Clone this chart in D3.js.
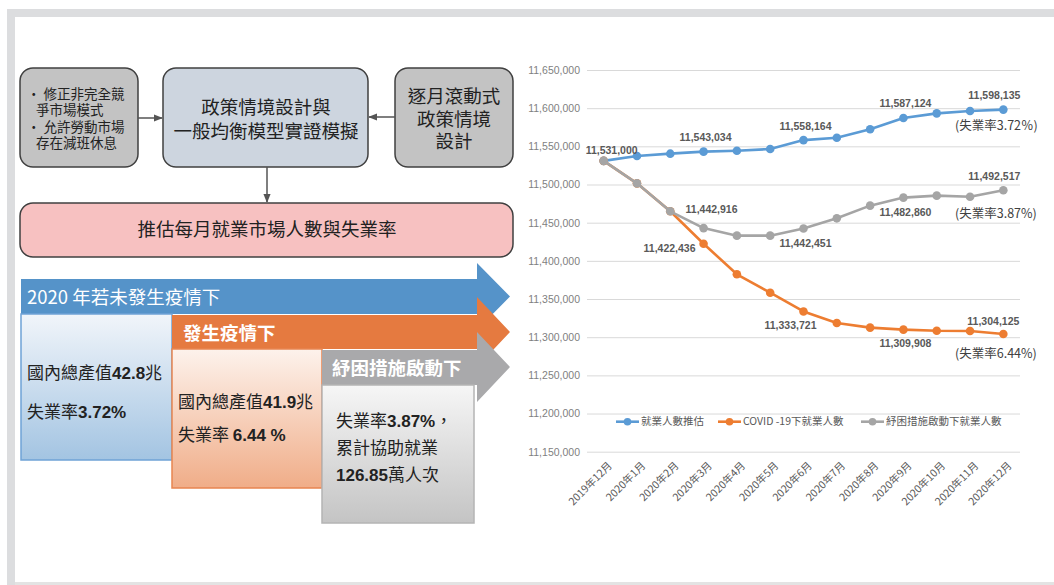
<!DOCTYPE html>
<html>
<head>
<meta charset="utf-8">
<script src="https://cdn.jsdelivr.net/npm/d3@7"></script>
<style>
  body { margin: 0; background: #fff; }
  svg text { font-family: "Noto Sans CJK TC", "Noto Sans CJK SC", sans-serif; }
  .num { font-family: "Liberation Sans", Arial, sans-serif; }
</style>
</head>
<body>
<svg id="chart" width="1054" height="585"></svg>
<script>
// --- data ---
var months = ["2019年12月", "2020年1月", "2020年2月", "2020年3月", "2020年4月", "2020年5月",
  "2020年6月", "2020年7月", "2020年8月", "2020年9月", "2020年10月", "2020年11月", "2020年12月"];

var baseline = [11531000, 11537300, 11540400, 11543034, 11544300, 11546500, 11558164,
  11561300, 11572300, 11587124, 11593200, 11596300, 11598135];
var covid = [11531000, 11501500, 11464900, 11422436, 11382400, 11358300, 11333721,
  11318600, 11312500, 11309908, 11308500, 11308100, 11304125];
var relief = [11531000, 11501500, 11464900, 11442916, 11433000, 11433000, 11442451,
  11455700, 11472300, 11482860, 11485400, 11484000, 11492517];

var seriesNames = ["就業人數推估", "COVID -19下就業人數", "紓困措施啟動下就業人數"];
var rateNotes = ["(失業率3.72％)", "(失業率6.44%)", "(失業率3.87%)"];
var labeledMonths = [[0, 3, 6, 9, 12], [3, 6, 9, 12], [3, 6, 9, 12]];
var yTicks = [11150000, 11200000, 11250000, 11300000, 11350000, 11400000,
  11450000, 11500000, 11550000, 11600000, 11650000];

// scenario panel texts
var leftNotes = ["・ 修正非完全競", "   爭市場模式", "・ 允許勞動市場", "   存在減班休息"];
var modelText = ["政策情境設計與", "一般均衡模型實證模擬"];
var rollText = ["逐月滾動式", "政策情境", "設計"];
var resultText = "推估每月就業市場人數與失業率";
var scenarios = ["2020 年若未發生疫情下", "發生疫情下", "紓困措施啟動下"];

// --- styling / placement ---
var colors = ["#5b9bd5", "#ed7d31", "#a5a5a5"];
// label offsets (dx, dy) per series for labelled points
var labelOffsets = [
  [[8, -11], [2, -14], [2, -14], [2, -15], [-9, -14]],
  [[-34, 5], [-13, 14], [2, 14], [-10, -13]],
  [[8, -19], [2, 15], [2, 15], [-9, -14]]
];
var noteY = [126, 354, 214];

var svg = d3.select("#chart");

// frame
svg.append("rect").attr("x", 7).attr("y", 9).attr("width", 1047).attr("height", 8).attr("fill", "#dcdddf");
svg.append("rect").attr("x", 7).attr("y", 9).attr("width", 8).attr("height", 576).attr("fill", "#dcdddf");
svg.append("rect").attr("x", 15).attr("y", 582).attr("width", 1039).attr("height", 3).attr("fill", "#e3e3e3");

// ---------- left diagram ----------
var diag = svg.append("g");

var defs = svg.append("defs");
defs.append("marker").attr("id", "arr").attr("viewBox", "0 0 10 10")
  .attr("refX", 9).attr("refY", 5).attr("markerWidth", 6).attr("markerHeight", 6)
  .attr("orient", "auto").append("path").attr("d", "M0,1 L10,5 L0,9 Z").attr("fill", "#555");

function grad(id, c0, c1) {
  var g = defs.append("linearGradient").attr("id", id).attr("x1", 0).attr("y1", 0).attr("x2", 0).attr("y2", 1);
  g.append("stop").attr("offset", "0%").attr("stop-color", c0);
  g.append("stop").attr("offset", "100%").attr("stop-color", c1);
}
grad("gBlue", "#f1f5fa", "#a3c4e2");
grad("gOrange", "#fdf2ec", "#f0ad88");
grad("gGray", "#f6f6f6", "#c4c4c4");

function box(x, y, w, h, fill) {
  diag.append("rect").attr("x", x).attr("y", y).attr("width", w).attr("height", h)
    .attr("rx", 13).attr("fill", fill).attr("stroke", "#404040").attr("stroke-width", 1.5);
}
box(20, 68, 118, 99, "#c3c3c3");
box(163, 68, 205, 99, "#cdd5df");
box(395, 68, 118, 99, "#c3c3c3");
box(20, 203, 493, 54, "#f7c1c1");

diag.append("line").attr("x1", 138).attr("y1", 118).attr("x2", 162).attr("y2", 118)
  .attr("stroke", "#555").attr("stroke-width", 1.5).attr("marker-end", "url(#arr)");
diag.append("line").attr("x1", 395).attr("y1", 117).attr("x2", 369).attr("y2", 117)
  .attr("stroke", "#555").attr("stroke-width", 1.5).attr("marker-end", "url(#arr)");
diag.append("line").attr("x1", 267).attr("y1", 167).attr("x2", 267).attr("y2", 202)
  .attr("stroke", "#555").attr("stroke-width", 1.5).attr("marker-end", "url(#arr)");

diag.selectAll(".ln").data(leftNotes).enter().append("text")
  .attr("x", 27).attr("y", function(d, i) { return 94 + i * 16.5; })
  .attr("dy", "0.35em").attr("font-size", 13.5).attr("fill", "#222")
  .attr("xml:space", "preserve").text(function(d) { return d; });

diag.selectAll(".mt").data(modelText).enter().append("text")
  .attr("x", 266).attr("y", function(d, i) { return 108 + i * 24; })
  .attr("dy", "0.35em").attr("text-anchor", "middle").attr("font-size", 18.5).attr("fill", "#222")
  .text(function(d) { return d; });

diag.selectAll(".rt").data(rollText).enter().append("text")
  .attr("x", 454).attr("y", function(d, i) { return 97 + i * 22.5; })
  .attr("dy", "0.35em").attr("text-anchor", "middle").attr("font-size", 18.5).attr("fill", "#222")
  .text(function(d) { return d; });

diag.append("text").attr("x", 267).attr("y", 230).attr("dy", "0.35em")
  .attr("text-anchor", "middle").attr("font-size", 18.5).attr("fill", "#222").text(resultText);

// scenario arrows + boxes
function arrow(x0, top, bot, headTop, headBot, fill) {
  var mid = (headTop + headBot) / 2;
  diag.append("path").attr("fill", fill)
    .attr("d", "M" + x0 + "," + top + " L477," + top + " L477," + headTop + " L510," + mid +
      " L477," + headBot + " L477," + bot + " L" + x0 + "," + bot + " Z");
}
function panel(x, y, w, h, fill, stroke) {
  diag.append("rect").attr("x", x).attr("y", y).attr("width", w).attr("height", h)
    .attr("fill", fill).attr("stroke", stroke).attr("stroke-width", 1.5);
}
function richText(x, y, parts, size) {
  var t = diag.append("text").attr("x", x).attr("y", y).attr("dy", "0.35em")
    .attr("font-size", size).attr("fill", "#222").attr("xml:space", "preserve");
  parts.forEach(function(p) {
    t.append("tspan").attr("class", p[1] ? "num" : null)
      .attr("font-weight", p[1] ? "bold" : null).text(p[0]);
  });
}

arrow(21, 279, 314, 263, 330, "#5593c9");
panel(21, 314, 151, 146, "url(#gBlue)", "#6fa3d6");
diag.append("text").attr("x", 27).attr("y", 298).attr("dy", "0.35em").attr("font-size", 18.5)
  .attr("fill", "#fff").text(scenarios[0]);
richText(27, 373, [["國內總產值", 0], ["42.8", 1], ["兆", 0]], 17);
richText(27, 412, [["失業率", 0], ["3.72%", 1]], 17);

arrow(172, 315, 349, 297, 367, "#e57a40");
panel(172, 349, 150, 139, "url(#gOrange)", "#e88550");
diag.append("text").attr("x", 183).attr("y", 334).attr("dy", "0.35em").attr("font-size", 18.5)
  .attr("font-weight", "bold").attr("fill", "#fff").text(scenarios[1]);
richText(178, 402, [["國內總產值", 0], ["41.9", 1], ["兆", 0]], 17);
richText(178, 435, [["失業率 ", 0], ["6.44 %", 1]], 17);

arrow(322, 350, 385, 332, 402, "#a9a9ab");
panel(322, 385, 152, 138, "url(#gGray)", "#b4b4b4");
diag.append("text").attr("x", 332).attr("y", 369).attr("dy", "0.35em").attr("font-size", 18.5)
  .attr("font-weight", "bold").attr("fill", "#fff").text(scenarios[2]);
richText(336, 421, [["失業率", 0], ["3.87%", 1], ["，", 0]], 17);
richText(336, 448, [["累計協助就業", 0]], 17);
richText(336, 475, [["126.85", 1], ["萬人次", 0]], 17);

// ---------- line chart ----------
var x = d3.scalePoint().domain(months).range([587, 1020]).padding(0.5);
var y = d3.scaleLinear().domain([11150000, 11650000]).range([451.7, 70]);

var chart = svg.append("g");

var yAxis = chart.append("g").attr("transform", "translate(587,0)")
  .call(d3.axisLeft(y).tickValues(yTicks).tickSize(-433).tickPadding(7).tickFormat(d3.format(",")));
yAxis.select(".domain").remove();
yAxis.selectAll(".tick line").attr("stroke", "#d9d9d9");
yAxis.selectAll(".tick text").attr("class", "num").attr("font-size", 10.5).attr("fill", "#7f7f7f");

var xAxis = chart.append("g").attr("transform", "translate(0,451.7)")
  .call(d3.axisBottom(x).tickSize(0));
xAxis.select(".domain").remove();
xAxis.selectAll(".tick text").attr("y", null).attr("dy", "0.35em")
  .attr("transform", "translate(6,12) rotate(-45)").style("text-anchor", "end")
  .attr("font-size", 10.5).attr("fill", "#595959")
  .style("font-family", '"Noto Sans CJK TC", sans-serif');

var allSeries = [baseline, covid, relief];
var line = d3.line().x(function(d, i) { return x(months[i]); }).y(function(d) { return y(d); });

allSeries.forEach(function(s, k) {
  chart.append("path").datum(s).attr("fill", "none").attr("stroke", colors[k])
    .attr("stroke-width", 2.6).attr("stroke-linejoin", "round").attr("d", line);
  chart.selectAll(".pt" + k).data(s).enter().append("circle")
    .attr("cx", function(d, i) { return x(months[i]); })
    .attr("cy", function(d) { return y(d); })
    .attr("r", 4.3).attr("fill", colors[k]);
});

allSeries.forEach(function(s, k) {
  labeledMonths[k].forEach(function(idx, j) {
    var off = labelOffsets[k][j];
    chart.append("text").attr("class", "num")
      .attr("x", x(months[idx]) + off[0]).attr("y", y(s[idx]) + off[1]).attr("dy", "0.35em")
      .attr("text-anchor", "middle").attr("font-size", 10.5).attr("font-weight", "bold")
      .attr("fill", "#595959").text(d3.format(",")(s[idx]));
  });
  chart.append("text").attr("x", 955).attr("y", noteY[k]).attr("dy", "0.35em")
    .attr("font-size", 12.5).attr("fill", "#404040").text(rateNotes[k]);
});

// legend
var legendX = [616, 718, 861];
var leg = chart.selectAll(".leg").data(seriesNames).enter().append("g")
  .attr("transform", function(d, i) { return "translate(" + legendX[i] + ",421.7)"; });
leg.append("line").attr("x1", 0).attr("x2", 23).attr("stroke", function(d, i) { return colors[i]; })
  .attr("stroke-width", 2.6);
leg.append("circle").attr("cx", 11.5).attr("r", 3.8).attr("fill", function(d, i) { return colors[i]; });
leg.append("text").attr("x", 25).attr("dy", "0.35em").attr("font-size", 10.5).attr("fill", "#595959")
  .text(function(d) { return d; });
</script>
</body>
</html>
